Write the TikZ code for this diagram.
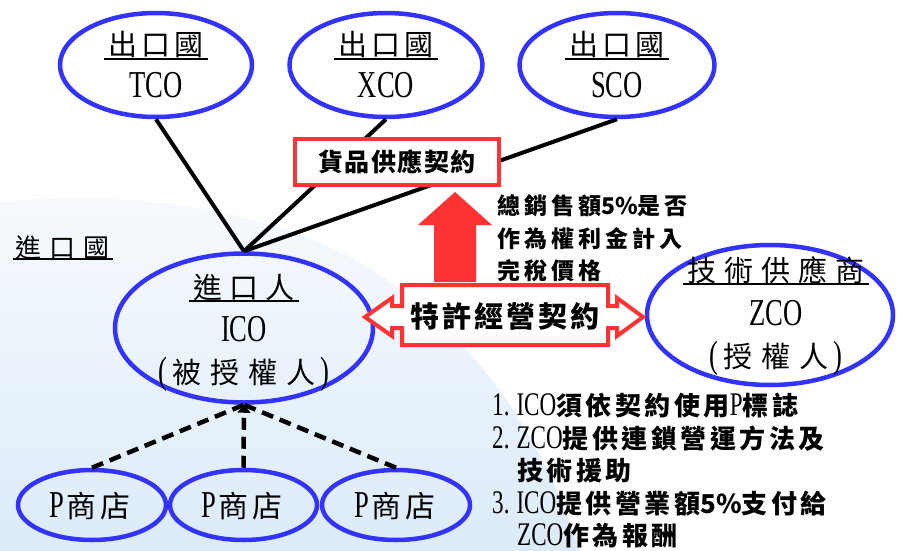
\documentclass[tikz,border=0pt]{standalone}
\usepackage{fontspec}
\setmainfont{Liberation Serif}
\newfontfamily\ltfont{Liberation Serif}[FakeStretch=0.7]
\newfontfamily\cjk{Noto Sans CJK TC}
\usetikzlibrary{arrows.meta,shapes.geometric}
\definecolor{eblue}{RGB}{51,51,255}
\definecolor{ered}{RGB}{255,51,51}
\definecolor{bgtop}{RGB}{247,250,253}
\definecolor{bgbot}{RGB}{220,235,249}
\newdimen\cjkgap
\newcount\cjkc
\cjkc="4E00
\loop
  \XeTeXcharclass\cjkc=200
  \advance\cjkc by 1
\ifnum\cjkc<"A000 \repeat
\XeTeXinterchartokenstate=1
\XeTeXinterchartoks 200 200 = {\hskip\cjkgap\relax}
\newcommand\lt[2][38]{{\ltfont\fontsize{#1pt}{#1pt}\selectfont #2}}
\newcommand\cj[2][29]{{\cjk\fontsize{#1pt}{#1pt}\selectfont #2}}
\begin{document}
\begin{tikzpicture}[x=1pt,y=-1pt,
  ell/.style={ellipse, draw=eblue, line width=4.5pt, inner sep=0pt},
  txt/.style={inner sep=0pt, anchor=base},
  ltxt/.style={inner sep=0pt, anchor=base west},
  uline/.style={line width=2pt},
  conn/.style={line width=4pt},
  dconn/.style={line width=4.5pt, dash pattern=on 12pt off 7pt},
  redbox/.style={draw=ered, line width=4.5pt, fill=white, inner sep=0pt}]
\useasboundingbox (0,0) rectangle (898,551);
\shade[top color=bgtop, bottom color=bgbot] (0,551) -- (0,202) .. controls (120,190) and (250,205) .. (350,257) .. controls (440,305) and (530,400) .. (580,551) -- cycle;

% ellipses
\node[ell, minimum width=192pt, minimum height=104pt] (tco) at (156,65) {};
\node[ell, minimum width=193pt, minimum height=104pt] (xco) at (386,65) {};
\node[ell, minimum width=195pt, minimum height=104pt] (sco) at (617,65) {};
\node[ell, minimum width=258pt, minimum height=149pt] (ico) at (244,328) {};
\node[ell, minimum width=246pt, minimum height=140pt] (zco) at (770,315) {};
\node[ell, minimum width=148pt, minimum height=70pt] (p1) at (92,505) {};
\node[ell, minimum width=147pt, minimum height=70pt] (p2) at (243.5,505) {};
\node[ell, minimum width=148pt, minimum height=70pt] (p3) at (396,505) {};

% connectors
\draw[conn] (tco.south) -- (ico.north);
\draw[conn] (xco.south) -- (ico.north);
\draw[conn] (sco.south) -- (ico.north);
\draw[dconn] (p1.north) -- (ico.south);
\draw[dconn] (p3.north) -- (ico.south);
\draw[dconn, -{Triangle[width=13pt,length=8pt]}] (p2.north) -- (ico.south);

% ellipse texts
\node[txt, inner xsep=4pt] (tco1) at (156,56) {\cj{\cjkgap=4pt 出口國}};
\draw[uline] (tco1.south west) -- (tco1.south east);
\node[txt] (tco2) at (156,98) {\lt{TCO}};
\node[txt, inner xsep=4pt] (xco1) at (386,56) {\cj{\cjkgap=4pt 出口國}};
\draw[uline] (xco1.south west) -- (xco1.south east);
\node[txt] (xco2) at (386,98) {\lt{XCO}};
\node[txt, inner xsep=4pt] (sco1) at (617,56) {\cj{\cjkgap=4pt 出口國}};
\draw[uline] (sco1.south west) -- (sco1.south east);
\node[txt] (sco2) at (617,98) {\lt{SCO}};

\node[txt, inner xsep=4pt] (ico1) at (244,298) {\cj{\cjkgap=7.5pt 進口人}};
\draw[uline] (ico1.south west) -- (ico1.south east);
\node[txt] (ico2) at (244,341) {\lt{ICO}};
\node[txt] (ico3) at (244,383) {\lt{(}\hspace{5pt}\cj{\cjkgap=9pt 被授權人}\hspace{5pt}\lt{)}};

\node[txt, inner xsep=4pt] (zco1) at (776,281) {\cj{\cjkgap=8pt 技術供應商}};
\draw[uline] (zco1.south west) -- (zco1.south east);
\node[txt] (zco2) at (776,325) {\lt{ZCO}};
\node[txt] (zco3) at (776,367) {\lt{(}\hspace{5pt}\cj{\cjkgap=9pt 授權人}\hspace{5pt}\lt{)}};

\node[txt] (p1t) at (90,517) {\lt{P}\hspace{2pt}\cj[30]{\cjkgap=4pt 商店}};
\node[txt] (p2t) at (242,517) {\lt{P}\hspace{2pt}\cj[30]{\cjkgap=4pt 商店}};
\node[txt] (p3t) at (395,517) {\lt{P}\hspace{2pt}\cj[30]{\cjkgap=4pt 商店}};

% importing country label
\node[txt, inner xsep=3pt] (imp) at (63,257) {\cj[26]{\cjkgap=8pt 進口國}};
\draw[uline] (imp.south west) -- (imp.south east);

% goods supply contract box
\node[redbox, minimum width=204pt, minimum height=46pt] (gbox) at (397,162) {\cj[25]{\bfseries\cjkgap=1.5pt 貨品供應契約}};

% up arrow
\fill[ered] (434,282) -- (434,225) -- (418,225) -- (455,192) -- (492,225) -- (476,225) -- (476,282) -- cycle;

% franchise double arrow
\draw[ered, line width=4pt, fill=white, line join=miter] (365,317) -- (392,298) -- (392,306) -- (402,306) -- (402,285) -- (608,285) -- (608,306) -- (617,306) -- (617,298) -- (643,317) -- (617,336) -- (617,328) -- (608,328) -- (608,345) -- (402,345) -- (402,328) -- (392,328) -- (392,336) -- cycle;
\node (fbox) at (505,316) {\cj[29]{\bfseries\cjkgap=3pt 特許經營契約}};

% annotation
\node[ltxt] (a1) at (497,214) {\cj[23]{\bfseries\cjkgap=4pt 總銷售額5\%是否}};
\node[ltxt] (a2) at (497,247) {\cj[23]{\bfseries\cjkgap=4pt 作為權利金計入}};
\node[ltxt] (a3) at (497,279) {\cj[23]{\bfseries\cjkgap=4pt 完稅價格}};

% list
\node[ltxt] (l1) at (492,415) {\cjkgap=3.5pt\lt[33]{1.\hspace{7pt}ICO}\cj[26]{\bfseries 須依契約使用}\lt[33]{P}\cj[26]{\bfseries 標誌}};
\node[ltxt] (l2) at (492,448) {\cjkgap=3.5pt\lt[33]{2.\hspace{7pt}ZCO}\cj[26]{\bfseries 提供連鎖營運方法及}};
\node[ltxt] (l3) at (517,480) {\cjkgap=3.5pt\cj[26]{\bfseries 技術援助}};
\node[ltxt] (l4) at (492,513) {\cjkgap=3.5pt\lt[33]{3.\hspace{7pt}ICO}\cj[26]{\bfseries 提供營業額5\%支付給}};
\node[ltxt] (l5) at (517,545) {\cjkgap=3.5pt\lt[33]{ZCO}\cj[26]{\bfseries 作為報酬}};
\end{tikzpicture}
\end{document}
